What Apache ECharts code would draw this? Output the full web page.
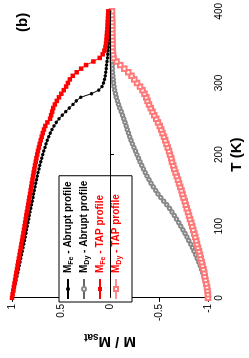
<!DOCTYPE html>
<html>
<head>
<meta charset="utf-8">
<script src="https://cdn.jsdelivr.net/npm/echarts@6/dist/echarts.min.js"></script>
<style>
html,body{margin:0;padding:0;background:#fff;overflow:hidden;}
#wrap{position:relative;width:249px;height:358px;overflow:hidden;background:#fff;}
#chart{position:absolute;left:0;top:0;width:358px;height:249px;transform-origin:0 0;transform:translateY(358px) rotate(-90deg);}
</style>
</head>
<body>
<div id="wrap"><div id="chart"></div></div>
<script>
// Temperature grid (K)
var temps = [0,5,10,15,20,25,30,35,40,45,50,55,60,65,70,75,80,85,90,95,100,105,110,115,120,125,130,135,140,145,150,155,160,165,170,175,180,185,190,195,200,205,210,215,220,225,230,235,240,245,250,255,260,265,270,275,280,285,290,295,300,305,310,315,320,325,330,335,340,345,350,355,360,365,370,375,380,385,390,395,400];

// M_Fe - Abrupt profile
var feAbrupt = [1.000,0.992,0.983,0.975,0.966,0.958,0.950,0.942,0.934,0.926,0.918,0.910,0.902,0.895,0.887,0.880,0.872,0.865,0.858,0.851,0.844,0.837,0.830,0.823,0.816,0.808,0.801,0.794,0.787,0.780,0.772,0.765,0.757,0.750,0.742,0.734,0.725,0.716,0.706,0.696,0.686,0.675,0.664,0.652,0.640,0.626,0.610,0.592,0.572,0.548,0.520,0.487,0.452,0.415,0.378,0.345,0.300,0.190,0.115,0.082,0.066,0.056,0.048,0.043,0.039,0.035,0.031,0.027,0.024,0.021,0.018,0.016,0.014,0.012,0.010,0.009,0.008,0.007,0.006,0.005,0.004];

// M_Dy - Abrupt profile
var dyAbrupt = [-1.000,-0.998,-0.992,-0.985,-0.977,-0.968,-0.957,-0.945,-0.933,-0.920,-0.905,-0.890,-0.874,-0.857,-0.840,-0.822,-0.803,-0.784,-0.764,-0.743,-0.722,-0.700,-0.678,-0.655,-0.631,-0.606,-0.578,-0.548,-0.518,-0.490,-0.465,-0.440,-0.418,-0.398,-0.378,-0.358,-0.340,-0.323,-0.306,-0.290,-0.274,-0.259,-0.243,-0.228,-0.213,-0.200,-0.188,-0.176,-0.164,-0.152,-0.140,-0.127,-0.114,-0.100,-0.087,-0.075,-0.064,-0.055,-0.047,-0.041,-0.036,-0.032,-0.029,-0.026,-0.024,-0.022,-0.020,-0.018,-0.017,-0.016,-0.015,-0.014,-0.013,-0.012,-0.011,-0.010,-0.010,-0.009,-0.009,-0.008,-0.008];

// M_Fe - TAP profile
var feTap = [1.000,0.994,0.987,0.981,0.975,0.968,0.962,0.956,0.949,0.943,0.936,0.930,0.923,0.917,0.910,0.904,0.897,0.891,0.884,0.878,0.872,0.866,0.860,0.854,0.848,0.841,0.835,0.829,0.823,0.816,0.810,0.804,0.798,0.791,0.785,0.779,0.772,0.765,0.758,0.751,0.743,0.735,0.726,0.717,0.707,0.697,0.686,0.674,0.660,0.639,0.612,0.601,0.590,0.580,0.563,0.543,0.521,0.497,0.472,0.448,0.430,0.410,0.380,0.340,0.295,0.245,0.170,0.105,0.075,0.058,0.047,0.041,0.037,0.034,0.031,0.028,0.026,0.024,0.022,0.020,0.018];

// M_Dy - TAP profile
var dyTap = [-1.000,-0.998,-0.994,-0.988,-0.981,-0.974,-0.967,-0.960,-0.952,-0.944,-0.935,-0.926,-0.917,-0.908,-0.898,-0.888,-0.878,-0.868,-0.858,-0.848,-0.838,-0.827,-0.816,-0.805,-0.794,-0.783,-0.772,-0.761,-0.750,-0.739,-0.728,-0.716,-0.704,-0.692,-0.680,-0.668,-0.656,-0.644,-0.631,-0.624,-0.612,-0.600,-0.588,-0.575,-0.562,-0.549,-0.535,-0.521,-0.506,-0.490,-0.470,-0.450,-0.432,-0.414,-0.398,-0.382,-0.368,-0.352,-0.332,-0.305,-0.276,-0.246,-0.218,-0.185,-0.145,-0.105,-0.066,-0.035,-0.029,-0.026,-0.025,-0.024,-0.024,-0.023,-0.023,-0.022,-0.022,-0.022,-0.021,-0.021,-0.021];

var tTicks = [0,100,200,300,400];
var mTicks = [-1,-0.5,0,0.5,1];

function pairs(vals){ return temps.map(function(t,i){ return [t, vals[i]]; }); }

var FONT = 'Liberation Sans, Arial, Helvetica, sans-serif';
var chart = echarts.init(document.getElementById('chart'), null, {renderer:'canvas'});

var legendRich = {
  m:{fontSize:10,fontWeight:'bold',fontFamily:FONT,lineHeight:14},
  s:{fontSize:7,fontWeight:'bold',fontFamily:FONT,verticalAlign:'bottom',lineHeight:14,padding:[5,0,0,0]},
  t:{fontSize:10,fontWeight:'bold',fontFamily:FONT,lineHeight:14}
};

chart.setOption({
  animation:false,
  backgroundColor:'#fff',
  grid:{left:46,right:8,top:12,bottom:36,containLabel:false},
  xAxis:{
    type:'value',min:tTicks[0],max:tTicks[tTicks.length-1],interval:100,
    name:'T (K)',nameLocation:'middle',nameGap:16,
    nameTextStyle:{fontFamily:FONT,fontSize:15,fontWeight:'bold',color:'#000'},
    axisLine:{show:true,lineStyle:{color:'#000',width:1}},
    axisTick:{show:true,length:4,lineStyle:{color:'#000'}},
    axisLabel:{color:'#000',fontSize:10,fontFamily:FONT,margin:6},
    splitLine:{show:false}
  },
  yAxis:{
    type:'value',min:mTicks[0],max:mTicks[mTicks.length-1],interval:0.5,
    name:'{a|M / M}{b|sat}',nameLocation:'middle',nameGap:26,
    nameTextStyle:{color:'#000',rich:{
      a:{fontFamily:FONT,fontSize:15,fontWeight:'bold',color:'#000',lineHeight:18},
      b:{fontFamily:FONT,fontSize:10,fontWeight:'bold',color:'#000',verticalAlign:'bottom',lineHeight:18,padding:[8,0,0,0]}
    }},
    axisLine:{show:true,lineStyle:{color:'#000',width:1}},
    axisTick:{show:true,length:4,lineStyle:{color:'#000'}},
    axisLabel:{color:'#000',fontSize:10,fontFamily:FONT,margin:6},
    splitLine:{show:false}
  },
  legend:{
    orient:'vertical',left:56,top:59,
    padding:[4,5,9,2],itemGap:4,itemWidth:20,itemHeight:5,
    backgroundColor:'#fff',borderColor:'#000',borderWidth:1,borderRadius:0,
    textStyle:{fontFamily:FONT,fontSize:10,fontWeight:'bold',color:'#000',rich:legendRich,padding:[0,0,0,1]},
    formatter:function(name){
      var p = name.split('|');
      return '{m|M}{s|'+p[0]+'}{t| - '+p[1]+'}';
    },
    data:[
      {name:'Fe|Abrupt profile',textStyle:{color:'#000'}},
      {name:'Dy|Abrupt profile',textStyle:{color:'#000'}},
      {name:'Fe|TAP profile',textStyle:{color:'#ff0000'}},
      {name:'Dy|TAP profile',textStyle:{color:'#ff0000'}}
    ]
  },
  graphic:[{type:'text',left:326,top:15,style:{text:'(b)',font:'bold 15px '+FONT,fill:'#000'}}],
  series:[
    {name:'Fe|Abrupt profile',type:'line',data:pairs(feAbrupt),symbol:'circle',symbolSize:3.5,showAllSymbol:true,
     lineStyle:{color:'#000',width:1},itemStyle:{color:'#000'},z:3,
     markLine:{silent:true,symbol:['none','none'],label:{show:false},lineStyle:{color:'#000',width:1,type:'solid'},data:[{yAxis:0}]}},
    {name:'Dy|Abrupt profile',type:'line',data:pairs(dyAbrupt),symbol:'emptyCircle',symbolSize:3.5,showAllSymbol:true,
     lineStyle:{color:'#666',width:0.6},itemStyle:{color:'#888',borderWidth:0.7},z:2},
    {name:'Fe|TAP profile',type:'line',data:pairs(feTap),symbol:'rect',symbolSize:4.5,showAllSymbol:true,
     lineStyle:{color:'#ff0000',width:1},itemStyle:{color:'#ff0000'},z:4},
    {name:'Dy|TAP profile',type:'line',data:pairs(dyTap),symbol:'emptyRect',symbolSize:4.5,showAllSymbol:true,
     lineStyle:{color:'#ff9090',width:0.6},itemStyle:{color:'#ff7878',borderWidth:0.8},z:2}
  ]
});
</script>
</body>
</html>
